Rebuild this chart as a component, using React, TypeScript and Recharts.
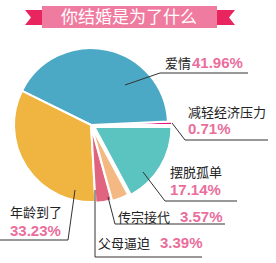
import { Cell, Pie, PieChart, Sector } from 'recharts'

const reasons = ['减轻经济压力', '爱情', '年龄到了', '父母逼迫', '传宗接代', '摆脱孤单']
const shares = [0.71, 41.96, 33.23, 3.39, 3.57, 17.14]
const sliceColors = ['#e4157f', '#4ba9c5', '#efb540', '#e0647f', '#f4b882', '#5bc3c0']

const chartData = reasons.map((name, i) => ({ name, value: shares[i] }))

const CX = 91
const CY = 125
const RADIUS = 77
// how far each slice is pulled out from the centre
const explode = [4, 0, 0, 1, 2, 4]

// label layout, offsets from pie centre: leader start, elbow, underline end x, text anchor
const labelLayout = [
  { sx: 81, sy: -2, ex: 94, ey: 15, lx: 177, tx: 97, ty: -8, px: 97, py: 9 },
  { sx: 34, sy: -40, ex: 69, ey: -52, lx: 157, tx: 74, ty: -57, px: 101, py: -57 },
  { sx: -16, sy: 65, ex: -23, ey: 115, lx: -91, tx: -81, ty: 92, px: -81, py: 111 },
  { sx: 4, sy: 65, ex: 4, ey: 132, lx: 111, tx: 7, ty: 123, px: 69, py: 123 },
  { sx: 17, sy: 72, ex: 24, ey: 99, lx: 134, tx: 27, ty: 97, px: 89, py: 97 },
  { sx: 52, sy: 47, ex: 74, ey: 76, lx: 146, tx: 79, ty: 52, px: 79, py: 70 },
]

const cjk = '"Noto Sans CJK SC", "Noto Sans", sans-serif'
const pctFont = '"Liberation Sans Narrow", "Liberation Sans", Arial, sans-serif'

const RAD = Math.PI / 180

function ExplodedSlice(props: any) {
  const { index, midAngle, cx, cy } = props
  const off = explode[index] || 0
  const dx = off * Math.cos(-midAngle * RAD)
  const dy = off * Math.sin(-midAngle * RAD)
  return <Sector {...props} cx={cx + dx} cy={cy + dy} />
}

function renderLabel(props: any) {
  const { cx, cy, index, name, value } = props
  const l = labelLayout[index]
  return (
    <g key={`lbl-${index}`}>
      <polyline
        points={`${cx + l.sx},${cy + l.sy} ${cx + l.ex},${cy + l.ey} ${cx + l.lx},${cy + l.ey}`}
        fill="none"
        stroke="#333"
        strokeWidth={1}
      />
      <text x={cx + l.tx} y={cy + l.ty} fontSize={13} fontFamily={cjk} fill="#222">
        {name}
      </text>
      <text
        x={cx + l.px}
        y={cy + l.py}
        fontSize={15}
        fontWeight="bold"
        fontFamily={pctFont}
        fill="#ea6e9c"
      >
        {`${value.toFixed(2)}%`}
      </text>
    </g>
  )
}

function Banner() {
  return (
    <svg width={276} height={36} style={{ position: 'absolute', left: 0, top: 0 }}>
      <polygon points="25,10 43,10 43,25 25,25 31,17.5" fill="#e8255f" />
      <polygon points="235,10 217,10 217,25 235,25 229,17.5" fill="#e8255f" />
      <rect x={42} y={6} width={175} height={22} fill="#f07ba0" />
      <text
        x={129}
        y={23}
        textAnchor="middle"
        fontSize={17}
        fontFamily={cjk}
        fill="#fff"
      >
        你结婚是为了什么
      </text>
    </svg>
  )
}

export default function App() {
  return (
    <div style={{ position: 'relative', width: 276, height: 263, background: '#fff' }}>
      <style>{'body{margin:0}'}</style>
      <PieChart width={276} height={263} margin={{ top: 0, right: 0, bottom: 0, left: 0 }}>
        <Pie
          data={chartData}
          dataKey="value"
          nameKey="name"
          cx={CX}
          cy={CY}
          outerRadius={RADIUS}
          startAngle={0}
          endAngle={360}
          stroke="#fff"
          strokeWidth={2}
          shape={ExplodedSlice}
          label={renderLabel}
          labelLine={false}
          isAnimationActive={false}
        >
          {chartData.map((d, i) => (
            <Cell key={d.name} fill={sliceColors[i]} />
          ))}
        </Pie>
      </PieChart>
      <Banner />
    </div>
  )
}
